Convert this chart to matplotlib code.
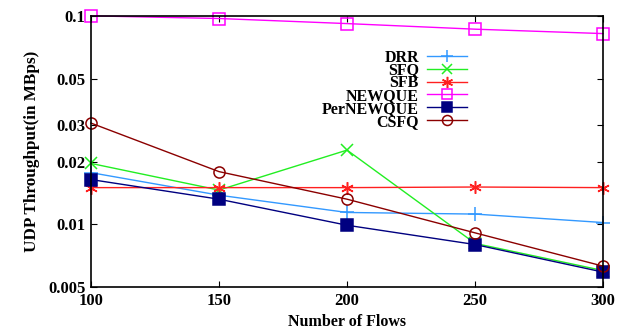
import numpy as np
import matplotlib
matplotlib.use('Agg')
import matplotlib.pyplot as plt
from matplotlib.ticker import FixedLocator, FixedFormatter, NullLocator

plt.rcParams['font.family'] = ['Liberation Serif', 'DejaVu Serif']
plt.rcParams['font.weight'] = 'bold'

flows = [100, 150, 200, 250, 300]
drr = [0.0177, 0.0138, 0.0114, 0.0112, 0.0102]
sfq = [0.0196, 0.0146, 0.0227, 0.0081, 0.0060]
sfb = [0.0150, 0.0150, 0.0150, 0.0151, 0.0150]
newque = [0.1000, 0.0971, 0.0918, 0.0863, 0.0822]
pernewque = [0.0164, 0.0132, 0.0099, 0.0080, 0.0059]
csfq = [0.0306, 0.0179, 0.0132, 0.0091, 0.0063]

y_ticks = [0.005, 0.01, 0.02, 0.03, 0.05, 0.1]
y_labels = ['0.005', '0.01', '0.02', '0.03', '0.05', '0.1']

fig = plt.figure(figsize=(6.27, 3.30), dpi=100)
ax = fig.add_axes([0.145, 0.130, 0.817, 0.822])

# (label, data, color, marker, facecolor, size)
series = [
    ('DRR', drr, '#3399ff', '+', None, 10),
    ('SFQ', sfq, '#22ee22', 'x', None, 8),
    ('SFB', sfb, '#ff2020', (6, 2, 0), None, 9),
    ('NEWQUE', newque, '#ff00ff', 's', 'none', 8),
    ('PerNEWQUE', pernewque, '#000080', 's', '#000080', 8),
    ('CSFQ', csfq, '#8b0000', 'o', 'none', 8),
]

for label, vals, col, mk, fc, sz in series:
    kw = dict(color=col, marker=mk, lw=1.0, ms=sz, mew=1.1, label=label, clip_on=False)
    if fc is not None:
        kw['markerfacecolor'] = fc
    ax.plot(flows, vals, **kw)

ax.set_yscale('log')
ax.set_xlim(100, 300)
ax.set_ylim(0.005, 0.1)
ax.set_xticks(flows)
ax.yaxis.set_major_locator(FixedLocator(y_ticks))
ax.yaxis.set_major_formatter(FixedFormatter(y_labels))
ax.yaxis.set_minor_locator(NullLocator())
ax.tick_params(direction='in', top=True, right=True, length=4, width=0.8, labelsize=12, pad=4)
for lab in ax.get_xticklabels() + ax.get_yticklabels():
    lab.set_fontweight('bold')
for sp in ax.spines.values():
    sp.set_linewidth(1.2)

ax.set_xlabel('Number of Flows', fontsize=11.5, fontweight='bold', labelpad=4)
ax.set_ylabel('UDP Throughput(in MBps)', fontsize=12.3, fontweight='bold', labelpad=6)

leg = ax.legend(loc='upper left', bbox_to_anchor=(0.435, 0.905), markerfirst=False,
                frameon=False, fontsize=11.5, handlelength=2.5, handletextpad=0.5,
                labelspacing=-0.2, borderpad=0, markerscale=0.9)
for t in leg.get_texts():
    t.set_fontweight('bold')

fig.savefig('out.png', dpi=100)
